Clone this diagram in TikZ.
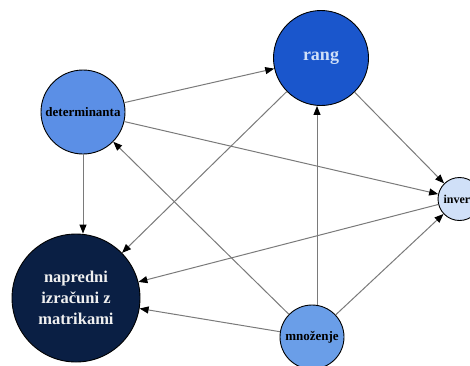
\documentclass[tikz,border=0pt]{standalone}
\usepackage{fontspec}
\setmainfont{Liberation Serif}
\usetikzlibrary{arrows.meta}
\definecolor{rangc}{HTML}{1A56CC}
\definecolor{detc}{HTML}{5B8FE6}
\definecolor{invc}{HTML}{D0E0F8}
\definecolor{napc}{HTML}{0A1F44}
\definecolor{mnoc}{HTML}{6A9EE8}
\definecolor{edgec}{HTML}{7A7A7A}
\begin{document}
\begin{tikzpicture}[x=1pt,y=-1pt, line join=round,
        topic/.style={circle,draw=black,line width=0.9pt,inner sep=0pt,font=\bfseries,align=center},
        link/.style={draw=edgec,line width=1pt,-{Triangle[length=9pt,width=7pt,fill=black,color=black]}}]
            \useasboundingbox (0,0) rectangle (470,365);
            \clip (0,0) rectangle (470,365);
            % topics
            \node[topic,fill=rangc,minimum size=95pt,text=invc,font=\bfseries\fontsize{18}{20}\selectfont] (rang) at (321,58) {rang};
            \node[topic,fill=detc,minimum size=84pt,font=\bfseries\fontsize{13}{15}\selectfont] (det) at (83,112) {determinanta};
            \node[topic,fill=invc,minimum size=43pt,font=\bfseries\fontsize{12}{14}\selectfont] (inv) at (459.5,199) {inver\phantom{z}};
            \node[topic,fill=napc,minimum size=128pt,text=white!88!gray,font=\bfseries\fontsize{16.5}{21}\selectfont] (nap) at (76,298) {napredni\\izračuni z\\matrikami};
            \node[topic,fill=mnoc,minimum size=64pt,font=\bfseries\fontsize{13}{15}\selectfont] (mno) at (312,337) {množenje};
            % links
            \draw[link] (det) -- (rang);
            \draw[link] (det) -- (inv);
            \draw[link] (det.south) -- (det.south |- nap.north);
            \draw[link] (rang) -- (nap);
            \draw[link] (rang) -- (inv);
            \draw[link] (inv) -- (nap);
            \draw[link] ([xshift=5pt]mno.north) -- ([xshift=-4pt]rang.south);
            \draw[link] (mno) -- (det);
            \draw[link] (mno) -- (nap);
            \draw[link] (mno) -- (inv);
        \end{tikzpicture}
\end{document}
